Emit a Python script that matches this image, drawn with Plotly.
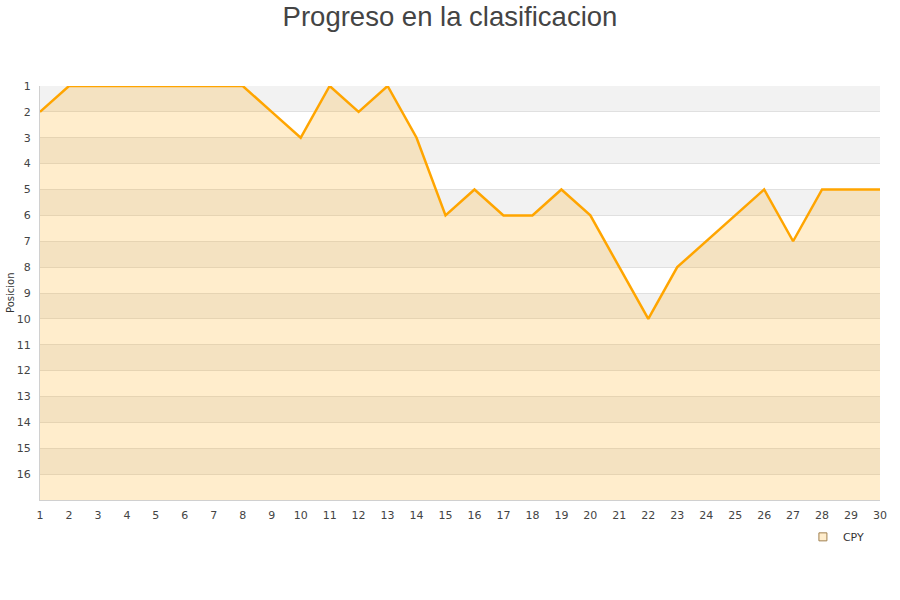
import plotly.graph_objects as go

jornadas = list(range(1, 31))
posiciones = [2, 1, 1, 1, 1, 1, 1, 1, 2, 3, 1, 2, 1, 3, 6, 5, 6, 6, 5, 6,
              8, 10, 8, 7, 6, 5, 7, 5, 5, 5]
equipo = "CPY"
y_ticks = list(range(1, 17))
y_bottom = 17

fig = go.Figure()
# baseline for fill
fig.add_trace(go.Scatter(x=jornadas, y=[y_bottom] * len(jornadas), mode="lines",
                         line=dict(width=0, color="rgba(0,0,0,0)"),
                         showlegend=False, hoverinfo="skip"))
fig.add_trace(go.Scatter(x=jornadas, y=posiciones, mode="lines", fill="tonexty",
                         fillcolor="rgba(255,165,0,0.2)",
                         line=dict(color="#ffa500", width=2.5),
                         name=equipo, showlegend=False))
# legend entry
fig.add_trace(go.Scatter(x=[None], y=[None], mode="markers", name=equipo,
                         marker=dict(symbol="square", size=8,
                                     color="rgba(255,165,0,0.2)",
                                     line=dict(color="#a08050", width=1))))

shapes = []
for k in range(1, y_bottom, 2):
    shapes.append(dict(type="rect", xref="paper", yref="y", x0=0, x1=1,
                       y0=k, y1=k + 1, fillcolor="#f2f2f2", line=dict(width=0),
                       layer="below"))

fig.update_layout(
    width=900, height=600,
    paper_bgcolor="white", plot_bgcolor="white",
    margin=dict(l=40, r=20, t=86, b=100),
    title=dict(text="Progreso en la clasificacion", x=0.5, xanchor="center",
               y=0.9725, yanchor="middle",
               font=dict(family="Liberation Sans, Arial", size=27.5, color="#444444")),
    shapes=shapes,
    showlegend=True,
    legend=dict(orientation="h", x=0.988, xanchor="right", y=-0.089, yanchor="middle",
                font=dict(family="DejaVu Sans", size=11, color="#333333"),
                bgcolor="rgba(0,0,0,0)", itemwidth=30),
    font=dict(family="DejaVu Sans", size=11, color="#444444"),
    annotations=[dict(text="Posicion", xref="paper", yref="paper", x=0, y=0.5,
                      xshift=-30, textangle=-90, showarrow=False,
                      xanchor="center", yanchor="middle",
                      font=dict(family="DejaVu Sans", size=10, color="#333333"))],
)
fig.update_xaxes(range=[1, 30], tickvals=jornadas, ticktext=[str(j) for j in jornadas],
                 showgrid=False, zeroline=False, showline=True, linecolor="#d0d0d0",
                 linewidth=1, ticks="outside", ticklen=5, tickcolor="rgba(0,0,0,0)",
                 automargin=False,
                 tickfont=dict(family="DejaVu Sans", size=11, color="#444444"))
fig.update_yaxes(range=[y_bottom, 1], tickvals=y_ticks, ticktext=[str(v) for v in y_ticks],
                 showgrid=True, gridcolor="#e0e0e0", gridwidth=1, zeroline=False,
                 showline=True, linecolor="#d0d0d0", linewidth=1,
                 ticks="outside", ticklen=6, tickcolor="rgba(0,0,0,0)",
                 automargin=False,
                 tickfont=dict(family="DejaVu Sans", size=11, color="#444444"))

fig.write_html("out.html", config={"displayModeBar": False},
               post_script="document.body.style.margin='0';document.documentElement.style.margin='0';")
